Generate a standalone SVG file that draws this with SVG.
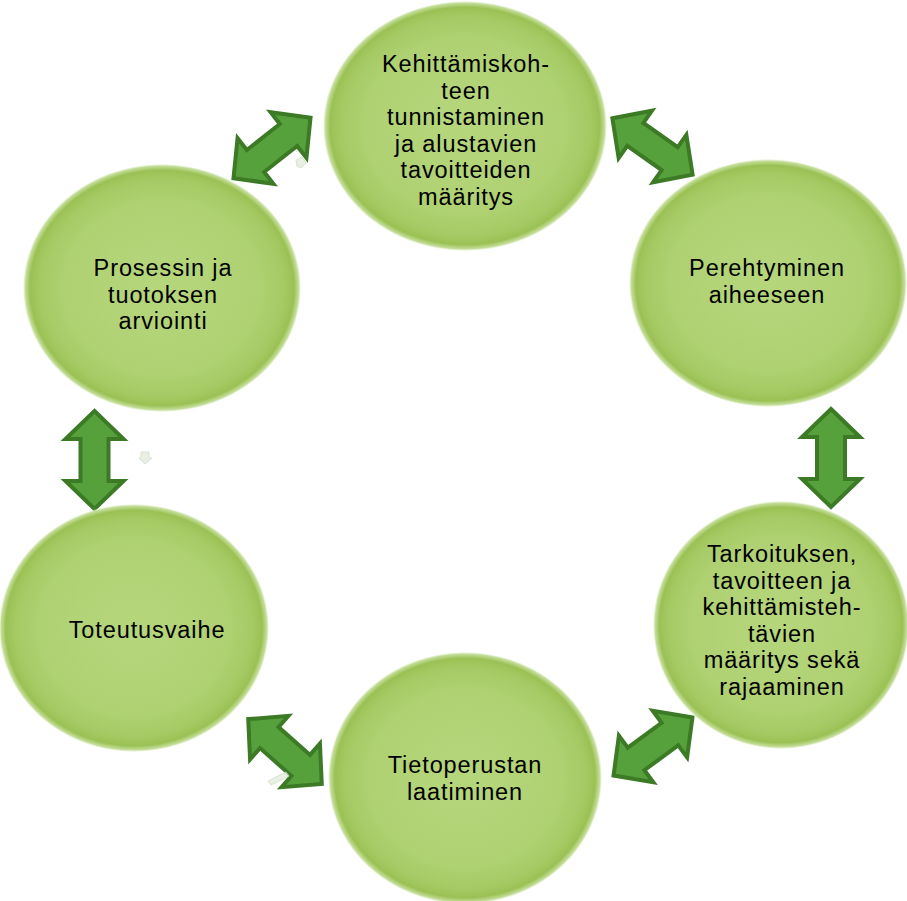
<svg xmlns="http://www.w3.org/2000/svg" width="907" height="901" viewBox="0 0 907 901">
<defs>
<radialGradient id="g" cx="0.5" cy="0.5" r="0.5">
<stop offset="0" stop-color="#b6d67c"/>
<stop offset="0.7" stop-color="#afd172"/>
<stop offset="0.88" stop-color="#a5ca64"/>
<stop offset="0.95" stop-color="#9bc155"/>
<stop offset="0.985" stop-color="#c6df9c"/>
<stop offset="1" stop-color="#eef6e2" stop-opacity="0.3"/>
</radialGradient>
<path id="arr" d="M-49,0 L-21,-29 L-21,-14 L21,-14 L21,-29 L49,0 L21,29 L21,14 L-21,14 L-21,29 Z"/>
</defs>
<style>
.c{fill:url(#g);}
.t{font-family:"Liberation Sans",Arial,sans-serif;font-size:23.5px;letter-spacing:0.9px;fill:#000;text-anchor:middle;}
.a{fill:#57a13c;stroke:#3c7a26;stroke-width:4;stroke-linejoin:miter;}
.f{fill:#e4ecdc;stroke:#cfdcc4;stroke-width:1;opacity:0.8;}
</style>
<rect width="907" height="901" fill="#ffffff"/>
<g id="connectors">
<use href="#arr" class="a" transform="translate(272,148) rotate(-38.2)"/>
<use href="#arr" class="a" transform="translate(652.5,146.5) rotate(35.1)"/>
<use href="#arr" class="a" transform="translate(831,458) rotate(90)"/>
<use href="#arr" class="a" transform="translate(653,746.5) rotate(-36.4)"/>
<use href="#arr" class="a" transform="translate(285,751.5) rotate(41.4)"/>
<use href="#arr" class="a" transform="translate(94.5,460) rotate(90)"/>
<path class="f" d="M296,160 L302,157 L306,163 L301,168 L297,166 Z"/>
<path class="f" d="M141,452 L149,452 L149,458 L152,458 L145,464 L139,458 L141,458 Z"/>
<path class="f" d="M268,781 L286,772 L289,776 L271,785 Z"/>
</g>
<g id="n1">
<ellipse class="c" cx="465" cy="126" rx="142" ry="125"/>
<text class="t" x="466" y="72">Kehittämiskoh-</text>
<text class="t" x="466" y="98.5">teen</text>
<text class="t" x="466" y="125">tunnistaminen</text>
<text class="t" x="466" y="151.5">ja alustavien</text>
<text class="t" x="466" y="178">tavoitteiden</text>
<text class="t" x="466" y="204.5">määritys</text>
</g>
<g id="n2">
<ellipse class="c" cx="768" cy="283" rx="139" ry="124"/>
<text class="t" x="767" y="276">Perehtyminen</text>
<text class="t" x="767" y="302.5">aiheeseen</text>
</g>
<g id="n3">
<ellipse class="c" cx="781" cy="625" rx="128" ry="124"/>
<text class="t" x="782" y="562">Tarkoituksen,</text>
<text class="t" x="782" y="588.5">tavoitteen ja</text>
<text class="t" x="782" y="615">kehittämisteh-</text>
<text class="t" x="782" y="641.5">tävien</text>
<text class="t" x="782" y="668">määritys sekä</text>
<text class="t" x="782" y="694.5">rajaaminen</text>
</g>
<g id="n4">
<ellipse class="c" cx="465" cy="778" rx="137" ry="126"/>
<text class="t" x="465" y="773">Tietoperustan</text>
<text class="t" x="465" y="799.5">laatiminen</text>
</g>
<g id="n5">
<ellipse class="c" cx="134" cy="628" rx="135" ry="124"/>
<text class="t" x="147" y="638">Toteutusvaihe</text>
</g>
<g id="n6">
<ellipse class="c" cx="162" cy="288" rx="139" ry="124"/>
<text class="t" x="163" y="276">Prosessin ja</text>
<text class="t" x="163" y="302.5">tuotoksen</text>
<text class="t" x="163" y="329">arviointi</text>
</g>
</svg>
